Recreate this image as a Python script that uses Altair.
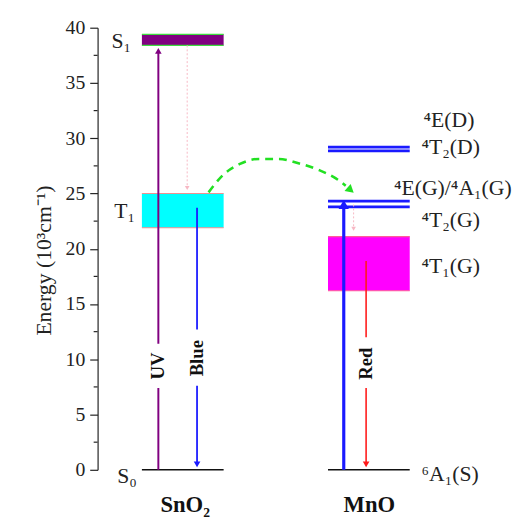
import altair as alt
import pandas as pd

# ---------------- data ----------------
y_major = [0, 5, 10, 15, 20, 25, 30, 35, 40]
y_minor = [2.5, 7.5, 12.5, 17.5, 22.5, 27.5, 32.5, 37.5]

# column extents (horizontal position units of the diagram)
columns = ["SnO2", "MnO"]
col_left = [45, 234]
col_right = [128, 317]

# energy bands (10^3 cm^-1)
band_name = ["S1", "T1", "4T1(G)"]
band_col = ["SnO2", "SnO2", "MnO"]
band_low = [38.4, 21.9, 16.2]
band_high = [39.4, 25.0, 21.1]
band_fill = ["#800080", "#00ffff", "#ff00ff"]
band_edge = ["#3ddc3d", "#f09090", "#ff5c9a"]

# sharp levels
level_col = ["SnO2", "MnO", "MnO", "MnO", "MnO", "MnO"]
level_energy = [0.0, 0.0, 29.2, 28.85, 24.3, 23.8]
level_color = ["#111111", "#111111", "#1a1aff", "#1a1aff", "#1a1aff", "#1a1aff"]

# transitions: x position, start energy, end energy
tr_name = ["UV", "Blue", "Red", "MnO exc", "ISC", "Mn relax"]
tr_x = [61.7, 101, 272.7, 250, 91, 260]
tr_from = [0.0, 23.7, 18.9, 0.0, 38.4, 24.0]
tr_to = [38.4, 0.0, 0.0, 24.5, 25.0, 21.3]
tr_color = ["#800080", "#1a1aff", "#ff1a1a", "#1a1aff", "#f7b8c4", "#f7b8c4"]
tr_width = [2, 1.8, 1.6, 3.2, 1, 1]
tr_label = ["UV", "Blue", "Red", "", "", ""]
tr_label_y = [9.4, 10.1, 9.6, 0, 0, 0]
tr_gap_low = [7.4, 7.6, 7.4, 0, 0, 0]
tr_gap_high = [11.4, 12.7, 12.0, 0, 0, 0]

# energy transfer curve (SnO2 T1 -> Mn 4E(G)/4A1(G))
et_x = [112.7, 127.7, 144, 164, 184, 204, 224, 244, 252]
et_y = [25.1, 26.7, 27.65, 28.13, 28.13, 27.74, 27.15, 26.25, 25.7]
et_head = (257, 25.3)

# state labels
lab_text = ["S\u2081", "T\u2081", "S\u2080",
            "\u2074E(D)", "\u2074T\u2082(D)", "\u2074E(G)/\u2074A\u2081(G)",
            "\u2074T\u2082(G)", "\u2074T\u2081(G)", "\u2076A\u2081(S)"]
lab_x = [14, 17, 20, 331, 329, 301, 329, 329, 329]
lab_y = [38.8, 23.4, -0.6, 31.6, 29.2, 25.5, 22.6, 18.4, -0.35]

mat_text = ["SnO\u2082", "MnO"]
mat_x = [89, 276]
mat_y = [-3.2, -3.2]

# ---------------- build ----------------
xs = alt.Scale(domain=[0, 420], nice=False)
ys = alt.Scale(domain=[0, 40], nice=False, zero=False)
FONT = "Liberation Serif"

cl = dict(zip(columns, col_left))
cr = dict(zip(columns, col_right))

bands = pd.DataFrame({
    "name": band_name,
    "x0": [cl[c] for c in band_col],
    "x1": [cr[c] for c in band_col],
    "lo": band_low, "hi": band_high, "fill": band_fill, "edge": band_edge,
})
edges = pd.DataFrame({
    "x0": list(bands.x0) * 2, "x1": list(bands.x1) * 2,
    "y": list(bands.lo) + list(bands.hi), "c": list(bands.edge) * 2,
})
levels = pd.DataFrame({
    "x0": [cl[c] for c in level_col], "x1": [cr[c] for c in level_col],
    "y": level_energy, "c": level_color,
    "w": [1.6 if c == "#111111" else 2.8 for c in level_color],
})

# shafts split around labels
seg_rows = []
head_rows = []
for i in range(len(tr_name)):
    a, b = tr_from[i], tr_to[i]
    up = b > a
    hd = 0.5
    tip_center = b - hd if up else b + hd
    if tr_label[i]:
        lo_s, hi_s = min(a, tip_center), max(a, tip_center)
        seg_rows.append(dict(x=tr_x[i], y0=lo_s, y1=tr_gap_low[i], c=tr_color[i], w=tr_width[i], n=tr_name[i]))
        seg_rows.append(dict(x=tr_x[i], y0=tr_gap_high[i], y1=hi_s, c=tr_color[i], w=tr_width[i], n=tr_name[i] + "b"))
    else:
        seg_rows.append(dict(x=tr_x[i], y0=a, y1=tip_center, c=tr_color[i], w=tr_width[i], n=tr_name[i]))
    head_rows.append(dict(x=tr_x[i], y=tip_center, c=tr_color[i],
                          shape="triangle-up" if up else "triangle-down",
                          s=110 if tr_width[i] >= 3 else (22 if tr_width[i] <= 1 else 45)))
segs = pd.DataFrame(seg_rows)
heads = pd.DataFrame(head_rows)
dashed = segs[segs.c == "#f7b8c4"]
solid = segs[segs.c != "#f7b8c4"]

tr_text = pd.DataFrame({"t": tr_label, "x": tr_x, "y": tr_label_y})
tr_text = tr_text[tr_text.t != ""]

et = pd.DataFrame({"x": et_x, "y": et_y, "o": list(range(len(et_x)))})
eth = pd.DataFrame({"x": [et_head[0]], "y": [et_head[1]]})

labs = pd.DataFrame({"t": lab_text, "x": lab_x, "y": lab_y})
mats = pd.DataFrame({"t": mat_text, "x": mat_x, "y": mat_y})
minors = pd.DataFrame({"y": y_minor})

base_axis = alt.Axis(
    values=y_major, grid=False, tickSize=8, tickWidth=1.2, domainWidth=1.2,
    domainColor="#222", tickColor="#222", labelColor="#222",
    labelFont=FONT, labelFontSize=20, labelPadding=5,
    title="Energy (10\u00b3cm\u207b\u00b9)", titleFont=FONT, titleFontSize=22,
    titleFontWeight="normal", titleColor="#222", titlePadding=10, titleY=236,
)

axis_layer = alt.Chart(pd.DataFrame({"y": [0, 40]})).mark_point(opacity=0).encode(
    x=alt.value(0), y=alt.Y("y:Q", scale=ys, axis=base_axis))

minor_layer = alt.Chart(minors).mark_rule(color="#222", strokeWidth=1.2).encode(
    x=alt.value(-4), x2=alt.value(0), y=alt.Y("y:Q", scale=ys))

band_layer = alt.Chart(bands).mark_rect().encode(
    x=alt.X("x0:Q", scale=xs, axis=None), x2="x1:Q",
    y=alt.Y("lo:Q", scale=ys), y2="hi:Q",
    color=alt.Color("fill:N", scale=None))

edge_layer = alt.Chart(edges).mark_rule(strokeWidth=1.2).encode(
    x=alt.X("x0:Q", scale=xs), x2="x1:Q", y=alt.Y("y:Q", scale=ys),
    color=alt.Color("c:N", scale=None))

level_layer = alt.Chart(levels).mark_rule().encode(
    x=alt.X("x0:Q", scale=xs), x2="x1:Q", y=alt.Y("y:Q", scale=ys),
    color=alt.Color("c:N", scale=None),
    strokeWidth=alt.StrokeWidth("w:Q", scale=None))

shaft_layer = alt.Chart(solid).mark_rule().encode(
    x=alt.X("x:Q", scale=xs), y=alt.Y("y0:Q", scale=ys), y2="y1:Q",
    color=alt.Color("c:N", scale=None),
    strokeWidth=alt.StrokeWidth("w:Q", scale=None))

dash_layer = alt.Chart(dashed).mark_rule(strokeDash=[2, 2]).encode(
    x=alt.X("x:Q", scale=xs), y=alt.Y("y0:Q", scale=ys), y2="y1:Q",
    color=alt.Color("c:N", scale=None),
    strokeWidth=alt.StrokeWidth("w:Q", scale=None))

head_layer = alt.Chart(heads).mark_point(filled=True, opacity=1, strokeWidth=0).encode(
    x=alt.X("x:Q", scale=xs), y=alt.Y("y:Q", scale=ys),
    color=alt.Color("c:N", scale=None),
    shape=alt.Shape("shape:N", scale=None),
    size=alt.Size("s:Q", scale=None))

trtext_layer = alt.Chart(tr_text).mark_text(
    angle=270, font=FONT, fontSize=19, fontWeight="bold", color="#111",
    align="center", baseline="middle").encode(
    x=alt.X("x:Q", scale=xs), y=alt.Y("y:Q", scale=ys), text="t:N")

et_layer = alt.Chart(et).mark_line(
    color="#22e022", strokeWidth=2.6, strokeDash=[8, 6], interpolate="monotone").encode(
    x=alt.X("x:Q", scale=xs), y=alt.Y("y:Q", scale=ys), order="o:Q")

eth_layer = alt.Chart(eth).mark_point(
    shape="triangle-up", filled=True, color="#22e022", size=90, angle=131, opacity=1).encode(
    x=alt.X("x:Q", scale=xs), y=alt.Y("y:Q", scale=ys))

lab_layer = alt.Chart(labs).mark_text(
    font=FONT, fontSize=22, color="#222", align="left", baseline="middle").encode(
    x=alt.X("x:Q", scale=xs), y=alt.Y("y:Q", scale=ys), text="t:N")

mat_layer = alt.Chart(mats).mark_text(
    font=FONT, fontSize=23, fontWeight="bold", color="#111", align="center",
    baseline="middle").encode(
    x=alt.X("x:Q", scale=xs), y=alt.Y("y:Q", scale=ys), text="t:N")

chart = alt.layer(
    axis_layer, minor_layer, band_layer, edge_layer, level_layer,
    dash_layer, shaft_layer, head_layer, trtext_layer, et_layer, eth_layer,
    lab_layer, mat_layer,
).properties(
    width=420, height=449,
    autosize=alt.AutoSizeParams(type="none"),
    padding={"left": 91, "top": 16, "right": 9, "bottom": 50},
    background="white",
).configure_view(stroke=None)

chart.save("out.html", embed_options={"renderer": "svg", "actions": False})
